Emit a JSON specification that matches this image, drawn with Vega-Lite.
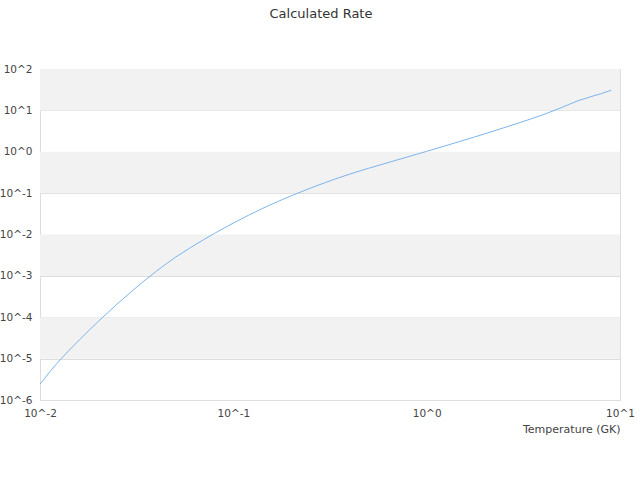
{
  "$schema": "https://vega.github.io/schema/vega-lite/v6.json",
  "width": 580,
  "height": 331,
  "autosize": {"type": "none"},
  "padding": {"left": 40, "top": 69, "right": 20, "bottom": 80},
  "background": "white",
  "config": {
    "font": "DejaVu Sans",
    "view": {"stroke": "#dddddd", "strokeWidth": 1}
  },
  "title": {
    "text": "Calculated Rate",
    "font": "DejaVu Sans",
    "fontSize": 13,
    "fontWeight": "normal",
    "color": "#333333",
    "anchor": "middle",
    "frame": "group",
    "offset": 43,
    "dx": -9
  },
  "datasets": {
    "bands": [
      {"lo": 10, "hi": 100},
      {"lo": 0.1, "hi": 1},
      {"lo": 0.001, "hi": 0.01},
      {"lo": 0.00001, "hi": 0.0001}
    ],
    "rate": [
      {"T": 0.010, "rate": 2.40e-6},
      {"T": 0.011, "rate": 4.25e-6},
      {"T": 0.012, "rate": 6.92e-6},
      {"T": 0.013, "rate": 1.047e-5},
      {"T": 0.014, "rate": 1.51e-5},
      {"T": 0.015, "rate": 2.104e-5},
      {"T": 0.016, "rate": 2.85e-5},
      {"T": 0.018, "rate": 4.91e-5},
      {"T": 0.020, "rate": 7.89e-5},
      {"T": 0.025, "rate": 2.06e-4},
      {"T": 0.030, "rate": 4.345e-4},
      {"T": 0.035, "rate": 7.93e-4},
      {"T": 0.040, "rate": 1.3e-3},
      {"T": 0.045, "rate": 1.959e-3},
      {"T": 0.050, "rate": 2.793e-3},
      {"T": 0.060, "rate": 4.82e-3},
      {"T": 0.070, "rate": 7.43e-3},
      {"T": 0.080, "rate": 1.067e-2},
      {"T": 0.090, "rate": 1.449e-2},
      {"T": 0.100, "rate": 1.888e-2},
      {"T": 0.110, "rate": 2.382e-2},
      {"T": 0.120, "rate": 2.931e-2},
      {"T": 0.130, "rate": 3.524e-2},
      {"T": 0.140, "rate": 4.159e-2},
      {"T": 0.150, "rate": 4.83e-2},
      {"T": 0.160, "rate": 5.53e-2},
      {"T": 0.180, "rate": 7.05e-2},
      {"T": 0.200, "rate": 8.67e-2},
      {"T": 0.250, "rate": 0.1318},
      {"T": 0.300, "rate": 0.1811},
      {"T": 0.350, "rate": 0.2339},
      {"T": 0.400, "rate": 0.2877},
      {"T": 0.450, "rate": 0.342},
      {"T": 0.500, "rate": 0.397},
      {"T": 0.600, "rate": 0.5105},
      {"T": 0.700, "rate": 0.6295},
      {"T": 0.800, "rate": 0.7551},
      {"T": 0.900, "rate": 0.885},
      {"T": 1.000, "rate": 1.023},
      {"T": 1.250, "rate": 1.393},
      {"T": 1.500, "rate": 1.799},
      {"T": 1.750, "rate": 2.239},
      {"T": 2.000, "rate": 2.716},
      {"T": 2.500, "rate": 3.784},
      {"T": 3.000, "rate": 4.977},
      {"T": 3.500, "rate": 6.324},
      {"T": 4.000, "rate": 7.834},
      {"T": 5.000, "rate": 11.75},
      {"T": 6.000, "rate": 16.79},
      {"T": 7.000, "rate": 21.13},
      {"T": 8.000, "rate": 25.41},
      {"T": 9.000, "rate": 30.55}
    ]
  },
  "layer": [
    {
      "data": {"name": "bands"},
      "mark": {"type": "rect", "fill": "#f2f2f2", "stroke": null},
      "encoding": {
        "y": {
          "field": "lo",
          "type": "quantitative",
          "scale": {"type": "log", "domain": [0.000001, 100]}
        },
        "y2": {"field": "hi"}
      }
    },
    {
      "data": {"name": "rate"},
      "mark": {"type": "line", "color": "#7cb5ec", "strokeWidth": 1, "clip": true},
      "encoding": {
        "x": {
          "field": "T",
          "type": "quantitative",
          "scale": {"type": "log", "domain": [0.01, 10], "nice": false},
          "axis": {
            "title": "Temperature (GK)",
            "titleFont": "DejaVu Sans",
            "titleFontSize": 11,
            "titleFontWeight": "normal",
            "titleColor": "#444444",
            "titleAnchor": "end",
            "titlePadding": 5,
            "values": [0.01, 0.1, 1, 10],
            "labelExpr": "'10^' + round(log(datum.value) / LN10)",
            "labelFont": "DejaVu Sans",
            "labelFontSize": 10.5,
            "labelColor": "#444444",
            "labelPadding": 8,
            "labelFlush": false,
            "labelOverlap": false,
            "ticks": false,
            "grid": false,
            "domainColor": "#dddddd"
          }
        },
        "y": {
          "field": "rate",
          "type": "quantitative",
          "scale": {"type": "log", "domain": [0.000001, 100], "nice": false},
          "axis": {
            "title": null,
            "values": [0.000001, 0.00001, 0.0001, 0.001, 0.01, 0.1, 1, 10, 100],
            "labelExpr": "'10^' + round(log(datum.value) / LN10)",
            "labelFont": "DejaVu Sans",
            "labelFontSize": 10.5,
            "labelColor": "#444444",
            "labelPadding": 8,
            "labelFlush": false,
            "labelOverlap": false,
            "ticks": false,
            "grid": true,
            "gridColor": "#dddddd",
            "domainColor": "#dddddd"
          }
        }
      }
    }
  ]
}
